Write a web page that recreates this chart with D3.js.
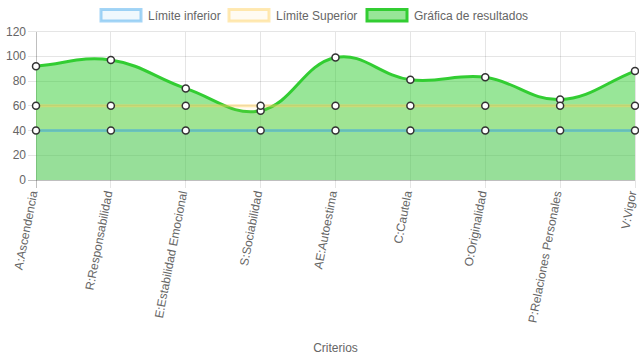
<!DOCTYPE html>
<html><head><meta charset="utf-8">
<script src="https://cdn.jsdelivr.net/npm/d3@7"></script>
<style>
html,body{margin:0;padding:0;background:#fff;}
svg{display:block;font-family:"Liberation Sans",Arial,Helvetica,sans-serif;}
</style></head>
<body><svg id="c" width="639" height="360"></svg>
<script>
const categories = ["A:Ascendencia","R:Responsabilidad","E:Estabilidad Emocional","S:Sociabilidad","AE:Autoestima","C:Cautela","O:Originalidad","P:Relaciones Personales","V:Vigor"];
const lowerLimit = [40,40,40,40,40,40,40,40,40];
const upperLimit = [60,60,60,60,60,60,60,60,60];
const results = [92,97,74,56,99,81,83,65,88];
const yTicks = [0,20,40,60,80,100,120];
const seriesNames = ["Límite inferior","Límite Superior","Gráfica de resultados"];
const xTitle = "Criterios";

(function(){
const pLeft=36,pRight=635,pTop=31.5,pBottom=180;
const svg=d3.select("#c");
const x=d3.scalePoint().domain(categories).range([pLeft,pRight]);
const y=d3.scaleLinear().domain([0,120]).range([pBottom,pTop]);

const grid=svg.append("g");
yTicks.forEach(t=>{
  grid.append("line").attr("x1",pLeft-8).attr("x2",pRight).attr("y1",y(t)).attr("y2",y(t))
    .attr("stroke",t===0?"rgba(0,0,0,0.25)":"rgba(0,0,0,0.1)").attr("stroke-width",1).attr("shape-rendering","crispEdges");
  svg.append("text").attr("x",pLeft-10).attr("y",y(t)).attr("dy","0.35em").attr("text-anchor","end")
    .attr("font-size",12).attr("fill","#666").text(t);
});
categories.forEach((c,i)=>{
  grid.append("line").attr("x1",x(c)).attr("x2",x(c)).attr("y1",pTop).attr("y2",pBottom+8)
    .attr("stroke",i===0?"rgba(0,0,0,0.25)":"rgba(0,0,0,0.1)").attr("stroke-width",1).attr("shape-rendering","crispEdges");
  svg.append("text").attr("transform",`translate(${x(c)-2.5},${pBottom+11}) rotate(-79)`)
    .attr("text-anchor","end").attr("dy","0.35em").attr("font-size",12).attr("fill","#666").text(c);
});

function splinePath(vals, tension){
  const pts=vals.map((v,i)=>({x:x(categories[i]),y:y(v)}));
  const n=pts.length;
  const cap=(v,a,b)=>Math.max(Math.min(v,b),a);
  const cps=pts.map((p,i)=>{
    const prev=pts[Math.max(i-1,0)], next=pts[Math.min(i+1,n-1)];
    const d01=Math.hypot(p.x-prev.x,p.y-prev.y), d12=Math.hypot(next.x-p.x,next.y-p.y);
    let s01=d01/(d01+d12), s12=d12/(d01+d12);
    if(isNaN(s01))s01=0; if(isNaN(s12))s12=0;
    const fa=tension*s01, fb=tension*s12;
    return {px:cap(p.x-fa*(next.x-prev.x),pLeft,pRight),py:cap(p.y-fa*(next.y-prev.y),pTop,pBottom),
            nx:cap(p.x+fb*(next.x-prev.x),pLeft,pRight),ny:cap(p.y+fb*(next.y-prev.y),pTop,pBottom)};
  });
  const p=d3.path();
  p.moveTo(pts[0].x,pts[0].y);
  for(let i=1;i<n;i++) p.bezierCurveTo(cps[i-1].nx,cps[i-1].ny,cps[i].px,cps[i].py,pts[i].x,pts[i].y);
  return {line:p.toString(),pts};
}
function areaPath(vals){
  const s=splinePath(vals,0.4);
  return s.line+`L${x(categories[categories.length-1])},${y(0)}L${x(categories[0])},${y(0)}Z`;
}
const green=splinePath(results,0.4);
const lower=splinePath(lowerLimit,0.4);
const upper=splinePath(upperLimit,0.4);

const colors={
  lowerBorder:"rgba(54,162,235,0.45)", lowerFill:"rgba(54,162,235,0.08)",
  upperBorder:"rgba(255,206,86,0.45)", upperFill:"rgba(255,206,86,0.08)",
  resBorder:"rgb(50,205,50)", resFill:"rgba(50,205,50,0.5)"
};
svg.append("path").attr("d",areaPath(results)).attr("fill",colors.resFill);
svg.append("path").attr("d",green.line).attr("fill","none").attr("stroke",colors.resBorder).attr("stroke-width",3);
svg.append("path").attr("d",areaPath(upperLimit)).attr("fill",colors.upperFill);
svg.append("path").attr("d",upper.line).attr("fill","none").attr("stroke",colors.upperBorder).attr("stroke-width",3);
svg.append("path").attr("d",areaPath(lowerLimit)).attr("fill",colors.lowerFill);
svg.append("path").attr("d",lower.line).attr("fill","none").attr("stroke",colors.lowerBorder).attr("stroke-width",3);
[green,upper,lower].forEach(s=>{
  s.pts.forEach(p=>svg.append("circle").attr("cx",p.x).attr("cy",p.y).attr("r",3.5)
    .attr("fill","#fff").attr("stroke","#333").attr("stroke-width",1.5));
});

svg.append("text").attr("x",(pLeft+pRight)/2).attr("y",348).attr("dy","0.35em").attr("text-anchor","middle")
  .attr("font-size",12).attr("fill","#666").text(xTitle);

const legendItems=[
  {name:seriesNames[0],fill:colors.lowerFill,stroke:colors.lowerBorder,x:101},
  {name:seriesNames[1],fill:colors.upperFill,stroke:colors.upperBorder,x:229},
  {name:seriesNames[2],fill:colors.resFill,stroke:colors.resBorder,x:367}
];
legendItems.forEach(it=>{
  svg.append("rect").attr("x",it.x).attr("y",9.5).attr("width",40).attr("height",11.5)
    .attr("fill",it.fill).attr("stroke",it.stroke).attr("stroke-width",3);
  svg.append("text").attr("x",it.x+47).attr("y",15.5).attr("dy","0.35em").attr("font-size",12)
    .attr("fill","#666").text(it.name);
});
})();
</script></body></html>
